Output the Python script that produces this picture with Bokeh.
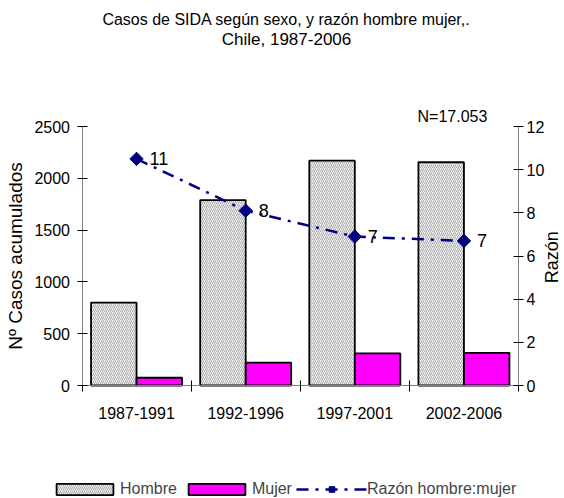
import numpy as np
from bokeh.plotting import figure
from bokeh.models import (Range1d, LinearAxis, FixedTicker, Legend, LegendItem,
                          Label, ColumnDataSource)
from bokeh.embed import file_html
from bokeh.resources import INLINE
from bokeh.core.properties import value

# ---- data ----
periods = ["1987-1991", "1992-1996", "1997-2001", "2002-2006"]
hombre = [800, 1790, 2170, 2155]
mujer = [75, 220, 310, 315]
razon = [10.5, 8.1, 6.9, 6.7]
razon_labels = ["11", "8", "7", "7"]
left_ticks = [0, 500, 1000, 1500, 2000, 2500]
right_ticks = [0, 2, 4, 6, 8, 10, 12]
title_lines = ["Casos de SIDA según sexo, y razón hombre mujer,.", "Chile, 1987-2006"]
n_text = "N=17.053"

FONT = "Liberation Sans"
W, H = 564, 498
# pixel box of the plotting area (axes drawn at these edges)
PX_L, PX_R, PX_T, PX_B = 81.5, 518.0, 126.0, 385.0
YMAX, RMAX = 2500, 12
ncat = len(periods)

ux = (PX_R - PX_L) / ncat
uy = (PX_B - PX_T) / YMAX
ur = (PX_B - PX_T) / RMAX

def fx(px):
    return (px - PX_L) / ux

def fy(py):
    return (PX_B - py) / uy

def fr(py):
    return (PX_B - py) / ur

p = figure(width=W, height=H, output_backend="svg", toolbar_location=None,
           title=None,
           x_range=Range1d(fx(0), fx(W)), y_range=Range1d(fy(H), fy(0)),
           min_border=0, min_border_left=0, min_border_right=0,
           min_border_top=0, min_border_bottom=0)
p.extra_y_ranges = {"razon": Range1d(fr(H), fr(0))}
p.xgrid.visible = False
p.ygrid.visible = False
p.outline_line_color = None
p.background_fill_color = "white"
p.border_fill_color = "white"

idx = np.arange(ncat)
centers = idx + 0.5
bw = 0.417

src = ColumnDataSource(dict(xh=centers - bw / 2, xm=centers + bw / 2, xc=centers,
                            hombre=hombre, mujer=mujer, razon=razon, lab=razon_labels))

rh = p.vbar(x="xh", top="hombre", width=bw, source=src, fill_color="#F0F0F0",
            hatch_pattern="/", hatch_color="#999999", hatch_scale=4, hatch_weight=0.8,
            line_color="black", line_width=1.8)
rm = p.vbar(x="xm", top="mujer", width=bw, source=src, fill_color="#FF00FF",
            line_color="black", line_width=1.8)
rl = p.line(x="xc", y="razon", source=src, y_range_name="razon", line_color="#000080",
            line_width=2.5, line_dash="12 7 3 7")
rs = p.scatter(x="xc", y="razon", source=src, y_range_name="razon", marker="square",
               angle=np.pi / 4, size=9.5, fill_color="#000080", line_color="#000080")
p.text(x="xc", y="razon", text="lab", source=src, y_range_name="razon", x_offset=13,
       text_baseline="middle", text_font=value(FONT), text_font_size="18px",
       text_color="black")

# ---- axes (fixed at the plot-area edges) ----
def style_axis(ax):
    ax.axis_line_color = "#808080"
    ax.major_tick_line_color = "black"
    ax.major_tick_in = 5
    ax.major_tick_out = 5
    ax.minor_tick_line_color = None
    ax.major_label_text_font = FONT
    ax.major_label_text_font_size = "16px"
    ax.major_label_text_color = "black"
    ax.axis_label_text_font = FONT
    ax.axis_label_text_font_style = "normal"
    ax.axis_label_text_color = "black"

yax = p.yaxis[0]
style_axis(yax)
yax.ticker = FixedTicker(ticks=left_ticks)
yax.fixed_location = 0
yax.bounds = (0, YMAX)
yax.major_label_standoff = 7
yax.axis_label = "Nº Casos acumulados"
yax.axis_label_text_font_size = "19px"
yax.axis_label_standoff = 6

xax = p.xaxis[0]
style_axis(xax)
xax.ticker = FixedTicker(ticks=list(centers), minor_ticks=list(range(ncat + 1)))
xax.major_label_overrides = {float(c): lab for c, lab in zip(centers, periods)}
xax.fixed_location = 0
xax.bounds = (0, ncat)
xax.major_tick_line_color = None
xax.major_tick_in = 0
xax.major_tick_out = 0
xax.minor_tick_line_color = "black"
xax.minor_tick_in = 5
xax.minor_tick_out = 6
xax.major_label_standoff = 15

rax = LinearAxis(y_range_name="razon", ticker=FixedTicker(ticks=right_ticks))
style_axis(rax)
rax.fixed_location = ncat
rax.bounds = (0, RMAX)
rax.major_label_standoff = 3
p.add_layout(rax, "right")

# ---- texts ----
p.add_layout(Label(x=fx(551), y=fr(256.7), y_range_name="razon", text="Razón",
                   angle=np.pi / 2, text_align="center", text_baseline="middle",
                   text_font=FONT, text_font_size="18px", text_color="black"))
p.add_layout(Label(x=fx(417), y=fy(115.8), text=n_text, text_align="left",
                   text_baseline="middle", text_font=FONT, text_font_size="16px",
                   text_color="black"))
p.add_layout(Label(x=fx(286), y=fy(18.5), text=title_lines[0], text_align="center",
                   text_baseline="middle", text_font=FONT, text_font_size="16px",
                   text_color="black"))
p.add_layout(Label(x=fx(286), y=fy(39.4), text=title_lines[1], text_align="center",
                   text_baseline="middle", text_font=FONT, text_font_size="17px",
                   text_color="black"))

# ---- legend ----
legend = Legend(items=[LegendItem(label=value("Hombre"), renderers=[rh]),
                       LegendItem(label=value("Mujer"), renderers=[rm]),
                       LegendItem(label=value("Razón hombre:mujer"), renderers=[rl, rs])],
                orientation="horizontal", location=(49, 0), glyph_width=71,
                glyph_height=14, label_standoff=0, spacing=4, padding=0, margin=0,
                border_line_color=None, background_fill_alpha=0,
                label_text_font=FONT, label_text_font_size="16px", label_height=16)
p.add_layout(legend)

open("out.html", "w").write(file_html(p, INLINE))
